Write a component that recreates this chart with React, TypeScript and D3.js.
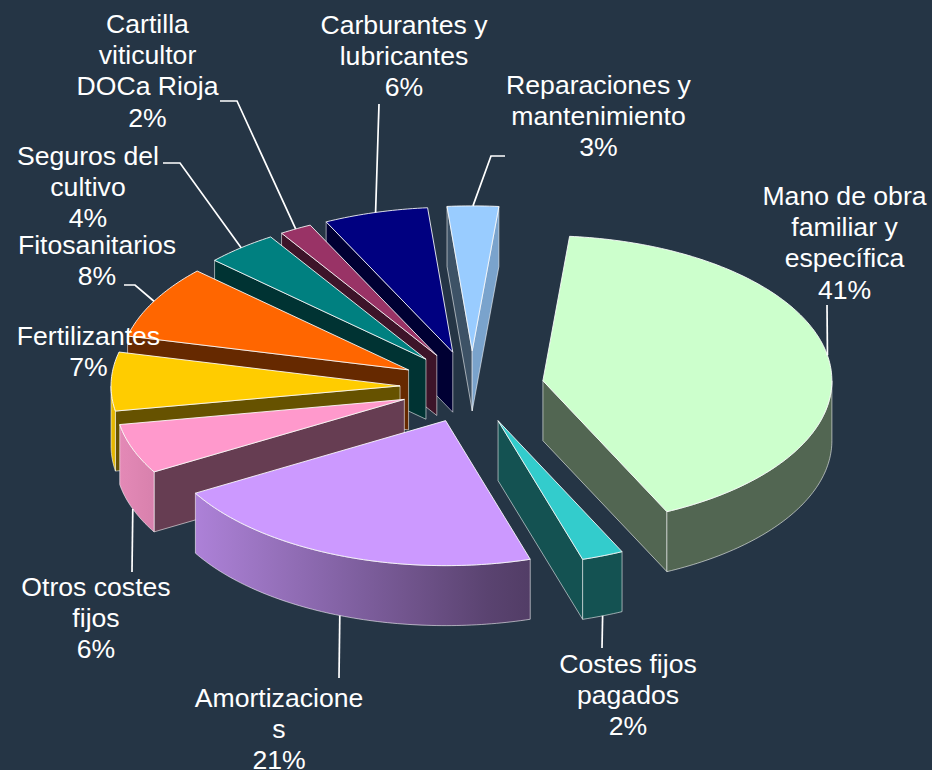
import React from "react";
import * as d3 from "d3";

// ---- data ----
const categories = [
  "Mano de obra familiar y específica",
  "Costes fijos pagados",
  "Amortizaciones",
  "Otros costes fijos",
  "Fertilizantes",
  "Fitosanitarios",
  "Seguros del cultivo",
  "Cartilla viticultor DOCa Rioja",
  "Carburantes y lubricantes",
  "Reparaciones y mantenimiento",
];
const shares = [41.47, 2.33, 21.39, 5.56, 6.53, 8.19, 4.03, 1.81, 5.83, 2.86];
const percentLabels = ["41%", "2%", "21%", "6%", "7%", "8%", "4%", "2%", "6%", "3%"];
const labelLines = [
  ["Mano de obra", "familiar y", "específica"],
  ["Costes fijos", "pagados"],
  ["Amortizacione", "s"],
  ["Otros costes", "fijos"],
  ["Fertilizantes"],
  ["Fitosanitarios"],
  ["Seguros del", "cultivo"],
  ["Cartilla", "viticultor", "DOCa Rioja"],
  ["Carburantes y", "lubricantes"],
  ["Reparaciones y", "mantenimiento"],
];

// ---- styling and layout ----
const sliceColors = ["#CCFFCC", "#33CCCC", "#CC99FF", "#FF99CC", "#FFCC00", "#FF6600", "#008080", "#993366", "#000080", "#99CCFF"];
const labelCenterX = [844.5, 628, 279, 96, 88.5, 97, 88, 147.5, 404, 598.5];
const labelFirstBaseline = [205, 673, 707, 596, 345, 254, 165, 33, 34, 94];
// start / elbow points of the leader lines, null when a slice has none
const leaderStart: ([number, number][] | null)[] = [
  [[827, 305]],
  [[602, 648]],
  [[339, 678]],
  [[132, 572]],
  null,
  [[124, 285], [135, 285]],
  [[163, 163], [180, 163]],
  [[220, 101], [237, 101]],
  [[379, 104]],
  [[505, 156], [491, 156]],
];

const W = 932;
const H = 770;
const BG = "#253545";
const CX = 472;
const CY = 387;
const RX = 289;
const RY = 145;
const DEPTH = 60;
const EXPLODE = 72;
const FONT_SIZE = 26.6;
const LINE_H = 31.2;

const toRad = (d: number) => (d * Math.PI) / 180;
const sweep = d3
  .pie<number>()
  .sort(null)
  .startAngle(toRad(-84.7))
  .endAngle(toRad(-84.7 + 360));

const shade = (c: string, k: number) => {
  const r = d3.rgb(c);
  return d3.rgb(r.r * k, r.g * k, r.b * k).formatHex();
};
// brightness of the curved wall as a function of the surface normal's x component
const wallBrightness = d3.scaleLinear().domain([-1, 0.25]).range([0.9, 0.4]).clamp(true);

const pathOf = d3.line<[number, number]>();

export default function App() {
  const slices = sweep(shares).map((a, i) => {
    const mid = (a.startAngle + a.endAngle) / 2;
    const ax = CX + EXPLODE * Math.cos(mid);
    const ay = CY + (EXPLODE * RY * Math.sin(mid)) / RX;
    const pt = (t: number, dz = 0): [number, number] => [ax + RX * Math.cos(t), ay + RY * Math.sin(t) + dz];
    const samples = (t0: number, t1: number) => {
      const n = Math.max(2, Math.ceil(((t1 - t0) * 180) / Math.PI));
      return d3.range(n + 1).map((k) => t0 + ((t1 - t0) * k) / n);
    };
    const top: [number, number][] = [[ax, ay], ...samples(a.startAngle, a.endAngle).map((t) => pt(t))];
    const wallOf = (t: number): [number, number][] => [
      [ax, ay],
      pt(t),
      pt(t, DEPTH),
      [ax, ay + DEPTH],
    ];
    // radial walls face the viewer only on one side of the pie
    const walls: { pts: [number, number][]; k: number }[] = [];
    if (Math.cos(a.startAngle) < 0) walls.push({ pts: wallOf(a.startAngle), k: 0.4 });
    if (Math.cos(a.endAngle) > 0) walls.push({ pts: wallOf(a.endAngle), k: i === 9 ? 0.8 : 0.4 });
    // visible part of the rim: the front half of the ellipse
    const rim: { x0: number; x1: number; d: string }[] = [];
    for (const off of [0, 2 * Math.PI]) {
      const lo = Math.max(a.startAngle, off);
      const hi = Math.min(a.endAngle, off + Math.PI);
      if (hi > lo) {
        const ts = samples(lo, hi);
        rim.push({
          x0: pt(hi)[0],
          x1: pt(lo)[0],
          d: pathOf([...ts.map((t) => pt(t)), ...ts.slice().reverse().map((t) => pt(t, DEPTH))]) + "Z",
        });
      }
    }
    const anchor = pt(mid, Math.sin(mid) > 0 ? DEPTH : 0);
    return { i, mid, ax, top, walls, rim, anchor, color: sliceColors[i] };
  });

  const drawOrder = slices.slice().sort((p, q) => Math.sin(p.mid) - Math.sin(q.mid));
  const edge = { stroke: "#fff", strokeOpacity: 0.7, strokeWidth: 0.8, strokeLinejoin: "round" as const };

  return (
    <svg width={W} height={H} style={{ position: "absolute", left: 0, top: 0, background: BG }}>
      <defs>
        {slices.flatMap((s) =>
          s.rim.map((r, j) => (
            <linearGradient key={`${s.i}-${j}`} id={`rim-${s.i}-${j}`} gradientUnits="userSpaceOnUse" x1={r.x0} x2={r.x1} y1={0} y2={0}>
              {d3.range(9).map((k) => {
                const f = k / 8;
                const cosine = (r.x0 + (r.x1 - r.x0) * f - s.ax) / RX;
                return <stop key={k} offset={f} stopColor={shade(s.color, wallBrightness(cosine))} />;
              })}
            </linearGradient>
          ))
        )}
      </defs>

      {drawOrder.map((s) => (
        <g key={s.i}>
          {s.walls.map((w, j) => (
            <path key={j} d={pathOf(w.pts) + "Z"} fill={shade(s.color, w.k)} {...edge} />
          ))}
          {s.rim.map((r, j) => (
            <path key={j} d={r.d} fill={`url(#rim-${s.i}-${j})`} {...edge} />
          ))}
          <path d={pathOf(s.top) + "Z"} fill={s.color} stroke="#fff" strokeOpacity={0.85} strokeWidth={1} strokeLinejoin="round" />
        </g>
      ))}

      {slices.map((s) => {
        const start = leaderStart[s.i];
        if (!start) return null;
        return <path key={s.i} d={pathOf([...start, s.anchor]) as string} fill="none" stroke="#fff" strokeWidth={1.7} />;
      })}

      <g fontFamily="'Liberation Sans', Arial, sans-serif" fontSize={FONT_SIZE} fill="#fff" textAnchor="middle">
        {categories.map((c, i) => (
          <text key={c} x={labelCenterX[i]} y={labelFirstBaseline[i]}>
            {[...labelLines[i], percentLabels[i]].map((line, k) => (
              <tspan key={k} x={labelCenterX[i]} dy={k === 0 ? 0 : LINE_H}>
                {line}
              </tspan>
            ))}
          </text>
        ))}
      </g>
    </svg>
  );
}
